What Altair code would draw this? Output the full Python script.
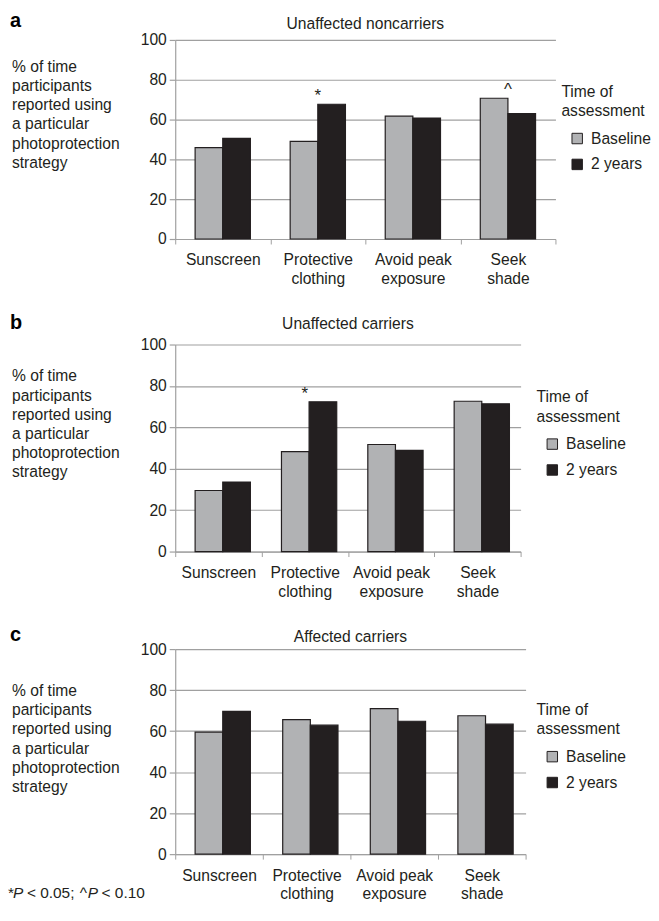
import altair as alt
import pandas as pd

# ---------------- data ----------------
categories = ["Sunscreen", "Protective clothing", "Avoid peak exposure", "Seek shade"]
series = ["Baseline", "2 years"]

a_baseline = [45.9, 49.0, 61.7, 70.7]
a_2years = [50.6, 67.7, 60.8, 63.0]
b_baseline = [29.5, 48.3, 51.7, 72.6]
b_2years = [33.6, 72.3, 48.9, 71.4]
c_baseline = [59.5, 65.6, 71.0, 67.5]
c_2years = [69.6, 62.9, 64.8, 63.4]

a_ann_cats = ["Protective clothing", "Seek shade"]
a_ann_syms = ["*", "^"]
b_ann_cats = ["Protective clothing"]
b_ann_syms = ["*"]
c_ann_cats = []
c_ann_syms = []

panel_letters = ["a", "b", "c"]
panel_titles = ["Unaffected noncarriers", "Unaffected carriers", "Affected carriers"]
y_title_lines = ["% of time", "participants", "reported using", "a particular",
                 "photoprotection", "strategy"]
legend_title = ["Time of", "assessment"]
y_ticks = [0, 20, 40, 60, 80, 100]

# ---------------- style ----------------
FONT = "Liberation Sans, Arial, Helvetica, sans-serif"
DARK = "#231f20"
GRAY = "#b1b2b4"
GRID = "#a0a0a0"
TXT = "#231f20"
FS = 15.7

label_expr = ("datum.label == 'Avoid peak exposure' ? ['Avoid peak', 'exposure'] : "
              "datum.label == 'Sunscreen' ? 'Sunscreen' : split(datum.label, ' ')")

one_row = pd.DataFrame({"k": [0]})


def panel(letter, title, base, two, ann_cats, ann_syms, width, height, lay, footnote=False):
    df = pd.DataFrame({
        "category": categories * 2,
        "series": [series[0]] * len(categories) + [series[1]] * len(categories),
        "value": base + two,
    })
    x_enc = alt.X(
        "category:N", sort=categories,
        scale=alt.Scale(paddingInner=0, paddingOuter=0),
        axis=alt.Axis(title=None, labelAngle=0, tickBand="extent", labelExpr=label_expr,
                      domainColor=GRID, domainWidth=1, tickColor=GRID, tickSize=5, tickWidth=1,
                      labelPadding=9, labelFontSize=FS, labelLineHeight=19, labelFont=FONT,
                      labelColor=TXT, grid=False, labelBaseline="top", labelOverlap=False),
    )
    y_enc = alt.Y(
        "value:Q",
        scale=alt.Scale(domain=[0, 100], nice=False, zero=True),
        axis=alt.Axis(title=None, values=y_ticks, tickCount=len(y_ticks), grid=True,
                      gridColor=GRID, gridWidth=1.2, labelOverlap=False,
                      domainColor=GRID, domainWidth=1.2, tickColor=GRID, tickSize=6, tickWidth=1.2,
                      labelPadding=3, labelFontSize=FS, labelFont=FONT, labelColor=TXT),
    )
    bars = alt.Chart(df).mark_bar(stroke=DARK, strokeWidth=1.2).encode(
        x=x_enc,
        y=y_enc,
        xOffset=alt.XOffset("series:N", sort=series,
                            scale=alt.Scale(paddingInner=0, paddingOuter=0.72)),
        color=alt.Color(
            "series:N", sort=series,
            scale=alt.Scale(domain=series, range=[GRAY, DARK]),
            legend=alt.Legend(
                title=legend_title, orient="none", legendX=lay["legx"], legendY=lay["legy"],
                titleFontSize=FS, titleFont=FONT, titleFontWeight="normal", titleColor=TXT,
                titleLineHeight=19.5, titlePadding=11, titleLimit=300,
                labelFontSize=FS, labelFont=FONT, labelColor=TXT, labelOffset=6,
                symbolType="square", symbolSize=110, symbolStrokeColor=DARK,
                symbolStrokeWidth=1, symbolOffset=8, rowPadding=9, padding=0,
            ),
        ),
    )
    layers = [bars]

    tops = [max(p, q) for p, q in zip(base, two)]
    if ann_cats:
        ann_df = pd.DataFrame({
            "category": ann_cats,
            "symbol": ann_syms,
            "value": [tops[categories.index(c)] for c in ann_cats],
        })
        ann = alt.Chart(ann_df).mark_text(
            baseline="alphabetic", align="center", fontSize=17, font=FONT, color=TXT, dy=-3
        ).encode(x=alt.X("category:N", sort=categories), y="value:Q", text="symbol:N")
        layers.append(ann)

    letter_mark = alt.Chart(one_row).mark_text(
        text=letter, align="left", baseline="alphabetic", fontSize=20, fontWeight="bold",
        font=FONT, color="#000000"
    ).encode(x=alt.value(-166), y=alt.value(lay["letter"]))
    title_mark = alt.Chart(one_row).mark_text(
        text=title, align="center", baseline="middle", fontSize=FS, font=FONT, color=TXT
    ).encode(x=alt.value(width / 2), y=alt.value(lay["title"]))
    ytitle_mark = alt.Chart(one_row).mark_text(
        text=y_title_lines, align="left", baseline="alphabetic", fontSize=FS, font=FONT,
        color=TXT, lineHeight=19.3
    ).encode(x=alt.value(-164), y=alt.value(lay["ytitle"]))
    layers += [letter_mark, title_mark, ytitle_mark]

    if footnote:
        fy = lay["foot"]
        pieces = [("*", -168, "normal"), ("P", -163, "italic"), ("< 0.05;", -149, "normal"),
                  ("^", -96, "normal"), ("P", -88, "italic"), ("< 0.10", -74, "normal")]
        for txt, xx, st in pieces:
            layers.append(
                alt.Chart(one_row).mark_text(
                    text=txt, align="left", baseline="alphabetic", fontSize=15.5, font=FONT,
                    fontStyle=st, color=TXT
                ).encode(x=alt.value(xx), y=alt.value(fy))
            )

    return alt.layer(*layers).properties(width=width, height=height)


pa = panel(panel_letters[0], panel_titles[0], a_baseline, a_2years, a_ann_cats, a_ann_syms,
           382, 200, {"legx": 388, "legy": 45, "letter": -13, "title": -16, "ytitle": 32})
pb = panel(panel_letters[1], panel_titles[1], b_baseline, b_2years, b_ann_cats, b_ann_syms,
           347, 208, {"legx": 363, "legy": 46, "letter": -16, "title": -21, "ytitle": 37})
pc = panel(panel_letters[2], panel_titles[2], c_baseline, c_2years, c_ann_cats, c_ann_syms,
           352, 206, {"legx": 363, "legy": 54, "letter": -8, "title": -12, "ytitle": 47,
                      "foot": 44 + 206}, footnote=True)

lower = alt.vconcat(pb, pc, spacing=98, bounds="flush").resolve_scale(
    color="independent", x="independent", y="independent"
)

chart = alt.vconcat(pa, lower, spacing=106, bounds="flush").resolve_scale(
    color="independent", x="independent", y="independent"
).properties(
    padding={"left": 0, "top": 1, "right": 0, "bottom": 0}
).configure_view(stroke=None)

chart.save("out.html", embed_options={"renderer": "svg", "actions": False})
